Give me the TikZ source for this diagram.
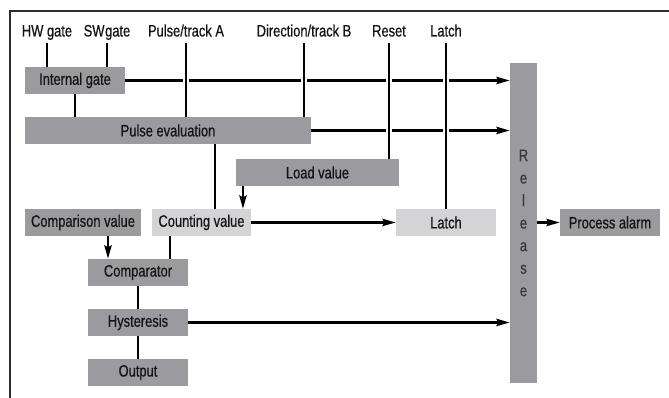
\documentclass[tikz,border=0pt]{standalone}
\usepackage{fontspec}
\setmainfont[FakeStretch=0.78,FakeBold=0.6]{Liberation Sans}
\usetikzlibrary{arrows.meta}
\definecolor{boxgray}{RGB}{155,154,159}
\definecolor{lightgray}{RGB}{212,212,214}
\definecolor{txt}{RGB}{20,20,20}
\definecolor{reltxt}{RGB}{55,55,60}
\definecolor{framec}{RGB}{45,45,45}
\newcommand{\dfont}{\fontsize{12.4}{14}\selectfont}
\tikzset{
  box/.style={fill=boxgray, draw=none, inner sep=0pt, minimum height=20.25pt, text=txt,
    font=\dfont},
  lbox/.style={box, fill=lightgray},
  lbl/.style={inner sep=0pt, text depth=0pt, text=txt, font=\dfont, anchor=base},
  wire/.style={line width=1.6pt, black},
  arr/.style={wire, -{Stealth[length=10pt,width=5.5pt,inset=1.5pt]}},
  hop/.style={wire, preaction={draw=white, line width=4.8pt}},
  frame/.style={line width=1.5pt, framec}
}
\begin{document}
\begin{tikzpicture}[x=0.75pt,y=-0.75pt]
\useasboundingbox (0,0) rectangle (669,398);
\draw[frame] (9.5,398) -- (9.5,11) -- (669,11);

% labels
\node[lbl] (hw) at (47,36.5) {HW gate};
\node[lbl] (sw) at (107,36.5) {SW\hspace{0.5pt}gate};
\node[lbl] (pta) at (186,36.5) {Pulse/track A};
\node[lbl] (dtb) at (304,36.5) {Direction/track B};
\node[lbl] (rst) at (389,36.5) {Reset};
\node[lbl] (lat) at (446,36.5) {Latch};

% boxes
\node[box, minimum width=75pt] (ig) at (75,80.5) {Internal gate};
\node[box, minimum width=214.5pt] (pe) at (168,130.5) {Pulse evaluation};
\node[box, minimum width=20.25pt, minimum height=240pt, text=reltxt,
      align=center, font=\fontsize{12.4}{16.9}\selectfont] (rel) at (523.5,223) {R\\e\\l\\e\\a\\s\\e};
\node[box, minimum width=122.25pt] (lv) at (317.5,172.5) {Load value};
\node[lbox, minimum width=74.25pt] (cv) at (201.5,222.5) {Counting value};
\node[lbox, minimum width=75pt] (la) at (446,222.5) {Latch};
\node[box, minimum width=75pt] (pa) at (610,222.5) {Process alarm};
\node[box, minimum width=87pt] (cmpv) at (83,222.5) {Comparison value};
\node[box, minimum width=75pt] (cmp) at (138,272.5) {Comparator};
\node[box, minimum width=75pt] (hy) at (138,322.5) {Hysteresis};
\node[box, minimum width=75pt] (out) at (138,372.5) {Output};

% horizontal connectors
\draw[arr] (ig.east) -- (ig.east -| rel.west);
\draw[arr] (pe.east) -- (pe.east -| rel.west);
\draw[arr] (cv.east) -- (la.west);
\draw[arr] (rel.east |- pa.west) -- (pa.west);
\draw[arr] (hy.east) -- (hy.east -| rel.west);

% vertical connectors
\draw[wire] ([yshift=-5pt]hw.south) -- (hw.south |- ig.north);
\draw[wire] ([yshift=-5pt]sw.south) -- (sw.south |- ig.north);
\draw[hop] ([yshift=-5pt]pta.south) -- (pta.south |- pe.north);
\draw[hop] ([yshift=-5pt]dtb.south) -- (dtb.south |- pe.north);
\draw[hop] ([yshift=-5pt]rst.south) -- (rst.south |- lv.north);
\draw[hop] ([yshift=-5pt]lat.south) -- (la.north);
\draw[wire] (ig.south) -- (ig.south |- pe.north);
\coordinate (pecv) at ([xshift=10.1pt]cv.north);
\draw[wire] (pecv |- pe.south) -- (pecv);
\coordinate (lvcv) at ([xshift=31.1pt]cv.north);
\draw[arr] (lvcv |- lv.south) -- (lvcv);
\coordinate (cvcmp) at ([xshift=-22.5pt]cmp.north);
\draw[arr] (cvcmp |- cmpv.south) -- (cvcmp);
\coordinate (cntcmp) at ([xshift=24pt]cmp.north);
\draw[wire] (cntcmp |- cv.south) -- (cntcmp);
\draw[wire] (cmp.south) -- (hy.north);
\draw[wire] (hy.south) -- (out.north);
\end{tikzpicture}
\end{document}
